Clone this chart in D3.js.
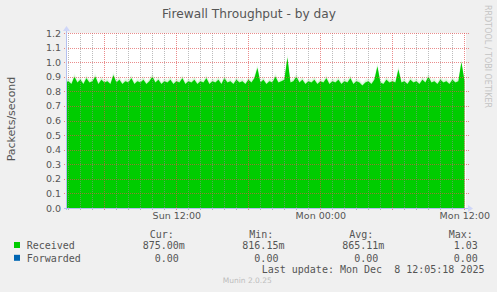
<!DOCTYPE html>
<html><head><meta charset="utf-8">
<script src="https://cdn.jsdelivr.net/npm/d3@7"></script>
<style>
html,body{margin:0;padding:0;background:#F0F0F0;}
svg{display:block;}
text{font-family:"DejaVu Sans";fill:#555;}
.mono{font-family:"DejaVu Sans Mono";white-space:pre;}
</style></head><body>
<svg id="c" width="497" height="292"></svg>
<script>
const title = "Firewall Throughput - by day";
const yLabel = "Packets/second";
const watermark = "RRDTOOL / TOBI OETIKER";
const footer = "Munin 2.0.25";
const seriesNames = ["Received", "Forwarded"];
const seriesColors = ["#00CC00", "#0066B3"];
const endTime = new Date(2025, 11, 8, 12, 5, 18);
const spanMinutes = 2000;
const stepMinutes = 15;
const received = [
  0.86,0.87,0.85,0.90,0.86,0.88,0.85,0.89,0.86,0.87,
  0.90,0.85,0.88,0.86,0.87,0.85,0.91,0.86,0.88,0.85,
  0.87,0.86,0.89,0.85,0.87,0.86,0.88,0.85,0.87,0.90,
  0.86,0.88,0.85,0.87,0.86,0.88,0.85,0.87,0.86,0.89,
  0.85,0.87,0.86,0.88,0.85,0.87,0.86,0.89,0.85,0.87,
  0.86,0.88,0.85,0.89,0.86,0.87,0.85,0.88,0.86,0.87,
  0.85,0.88,0.86,0.89,0.96,0.86,0.88,0.85,0.87,0.86,
  0.90,0.86,0.87,0.88,1.03,0.86,0.87,0.90,0.86,0.88,
  0.85,0.87,0.86,0.88,0.85,0.87,0.86,0.89,0.85,0.87,
  0.86,0.88,0.85,0.87,0.86,0.89,0.85,0.87,0.86,0.84,
  0.86,0.87,0.85,0.88,0.97,0.86,0.85,0.88,0.86,0.87,
  0.86,0.95,0.86,0.87,0.85,0.88,0.86,0.87,0.85,0.88,
  0.86,0.90,0.86,0.87,0.85,0.88,0.86,0.87,0.85,0.88,
  0.86,0.87,1.00,0.875
];
const forwarded = [
  0,0,0,0,0,0,0,0,0,0,0,0,0,0,0,0,0,0,0,0,
  0,0,0,0,0,0,0,0,0,0,0,0,0,0,0,0,0,0,0,0,
  0,0,0,0,0,0,0,0,0,0,0,0,0,0,0,0,0,0,0,0,
  0,0,0,0,0,0,0,0,0,0,0,0,0,0,0,0,0,0,0,0,
  0,0,0,0,0,0,0,0,0,0,0,0,0,0,0,0,0,0,0,0,
  0,0,0,0,0,0,0,0,0,0,0,0,0,0,0,0,0,0,0,0,
  0,0,0,0,0,0,0,0,0,0,0,0,0,0
];
const yTicks = [0.0,0.1,0.2,0.3,0.4,0.5,0.6,0.7,0.8,0.9,1.0,1.1,1.2];
const xTickTimes = [new Date(2025,11,7,12,0), new Date(2025,11,8,0,0), new Date(2025,11,8,12,0)];
const xTickLabels = ["Sun 12:00", "Mon 00:00", "Mon 12:00"];
const statHeaders = ["Cur:", "Min:", "Avg:", "Max:"];
const receivedStats = ["875.00m", "816.15m", "865.11m", "  1.03"];
const forwardedStats = ["  0.00", "  0.00", "  0.00", "  0.00"];
const lastUpdate = "Last update: Mon Dec  8 12:05:18 2025";

const svg = d3.select("#c");
const X0 = 66, X1 = 466, Y0 = 33, Y1 = 208;
const startTime = new Date(endTime.getTime() - spanMinutes * 60000);
const x = d3.scaleTime().domain([startTime, endTime]).range([65.4, 465.4]);
const y = d3.scaleLinear().domain([0, 1.2]).range([Y1, Y0]);
const tAt = i => new Date(startTime.getTime() + i * stepMinutes * 60000);

svg.append("rect").attr("width", 497).attr("height", 292).attr("fill", "#F0F0F0");
svg.append("rect").attr("x", X0).attr("y", Y0).attr("width", X1 - X0).attr("height", Y1 - Y0).attr("fill", "#FFFFFF");

const defs = svg.append("defs");
defs.append("clipPath").attr("id", "clip").append("rect")
  .attr("x", X0).attr("y", Y0 - 5).attr("width", X1 - X0).attr("height", Y1 - Y0 + 5);
const f = defs.append("filter").attr("id", "soft").attr("x", "-5%").attr("y", "-20%").attr("width", "110%").attr("height", "140%");
f.append("feGaussianBlur").attr("stdDeviation", "0.6 2");

const area = d3.area().x((d, i) => x(tAt(i))).y0(Y1).y1(d => y(d)).curve(d3.curveLinear);
const plot = svg.append("g").attr("clip-path", "url(#clip)");
plot.append("path").datum(received).attr("d", area).attr("fill", seriesColors[0]).attr("opacity", 0.55).attr("filter", "url(#soft)");
plot.append("path").datum(received).attr("d", area).attr("fill", seriesColors[0]);
plot.append("path").datum(forwarded).attr("d", area).attr("fill", seriesColors[1]);

// grid: dotted 1px lines built from single-pixel squares (rrdtool default grid colours)
const majorColor = "rgba(222,79,79,0.65)";
const minorColor = "rgba(143,143,143,0.6)";
const grid = svg.append("g").attr("shape-rendering", "crispEdges");
function hDots(yy, xa, xb) {
  let d = "";
  for (let xx = xa; xx <= xb; xx += 2) d += `M${xx},${yy}h1v1h-1z`;
  return d;
}
function vDots(xx, ya, yb) {
  let d = "";
  for (let yy = ya; yy <= yb; yy += 2) d += `M${xx},${yy}h1v1h-1z`;
  return d;
}
const hours = d3.timeHour.every(1).range(startTime, endTime);
hours.forEach(h => {
  const major = h.getHours() % 6 === 0;
  grid.append("path").attr("d", vDots(Math.floor(x(h)), Y0, Y1 + 2)).attr("fill", major ? majorColor : minorColor);
});
yTicks.filter(v => v > 0).forEach(v => {
  grid.append("path").attr("d", hDots(Math.round(y(v)), X0 - 2, X1 + 2)).attr("fill", majorColor);
});

const axisColor = "#B4C0F0";
svg.append("line").attr("x1", X0 - 2).attr("x2", X1 + 3).attr("y1", Y1 + 0.5).attr("y2", Y1 + 0.5)
  .attr("stroke", axisColor);
svg.append("line").attr("x1", X0 + 0.5).attr("x2", X0 + 0.5).attr("y1", Y1 + 2).attr("y2", Y0 - 3)
  .attr("stroke", axisColor);
svg.append("path").attr("d", `M${X1 + 2},${Y1 - 3}L${X1 + 7},${Y1 + 0.5}L${X1 + 2},${Y1 + 4}Z`).attr("fill", "#CFD6F8");
svg.append("path").attr("d", `M${X0 - 3},${Y0 - 2}L${X0 + 0.5},${Y0 - 7}L${X0 + 4},${Y0 - 2}Z`).attr("fill", "#CFD6F8");

const xa = svg.append("g").attr("transform", `translate(0,${Y1})`)
  .call(d3.axisBottom(x).tickValues(xTickTimes).tickFormat((d, i) => xTickLabels[i]).tickSize(0).tickPadding(4));
xa.select(".domain").remove();
xa.selectAll("text").attr("font-family", "DejaVu Sans").attr("font-size", "9.5px").attr("fill", "#555");
const ya = svg.append("g").attr("transform", `translate(${X0 - 5},0)`)
  .call(d3.axisLeft(y).tickValues(yTicks).tickFormat(d3.format(".1f")).tickSize(0).tickPadding(0));
ya.select(".domain").remove();
ya.selectAll("text").attr("font-family", "DejaVu Sans").attr("font-size", "9.5px").attr("fill", "#555");

svg.append("text").attr("x", 249).attr("y", 18.3).attr("text-anchor", "middle")
  .attr("font-size", "12.2px").text(title);
svg.append("text").attr("transform", "translate(15,119) rotate(-90)").attr("text-anchor", "middle")
  .attr("font-size", "11px").text(yLabel);
svg.append("text").attr("transform", "translate(485,5) rotate(90)").attr("font-size", "8px")
  .style("fill", "#C4C4C4").text(watermark);
svg.append("text").attr("x", 222.7).attr("y", 283).attr("font-size", "7.5px")
  .style("fill", "#BDBDBD").text(footer);

const colX = [142.7, 242.3, 342.2, 441.7];
const lg = svg.append("g").attr("class", "legend");
statHeaders.forEach((h, k) => {
  lg.append("text").attr("class", "mono").attr("x", colX[k] + 7).attr("y", 237.5).attr("font-size", "10px").text(h);
});
[[receivedStats, 249], [forwardedStats, 261.8]].forEach(([stats, by], s) => {
  lg.append("rect").attr("x", 14).attr("y", by - 7).attr("width", 6).attr("height", 6).attr("fill", seriesColors[s]);
  lg.append("text").attr("class", "mono").attr("x", 26.7).attr("y", by).attr("font-size", "10px").text(seriesNames[s]);
  stats.forEach((v, k) => {
    lg.append("text").attr("class", "mono").attr("x", colX[k]).attr("y", by).attr("font-size", "10px").text(v);
  });
});
lg.append("text").attr("class", "mono").attr("x", 261.7).attr("y", 272.7).attr("font-size", "10px").text(lastUpdate);
</script>
</body></html>
